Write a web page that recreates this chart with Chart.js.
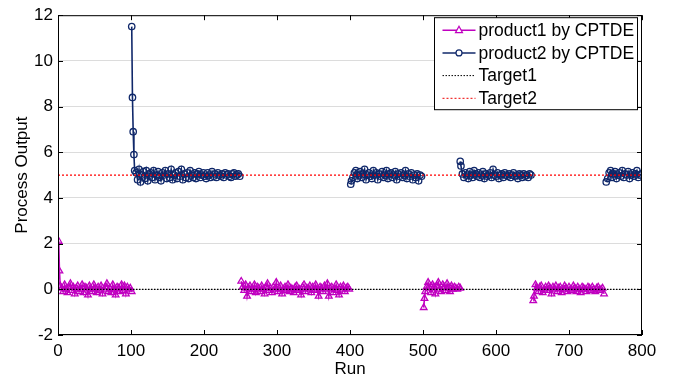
<!DOCTYPE html>
<html>
<head>
<meta charset="utf-8">
<script src="https://cdn.jsdelivr.net/npm/chart.js@4"></script>
<style>
  html, body { margin: 0; padding: 0; background: #fff; }
  #wrap { width: 674px; height: 378px; }
</style>
</head>
<body>
<div id="wrap"><canvas id="chart" width="674" height="378"></canvas></div>
<script>
// valeurs : les premiers points de chaque segment (transitoire)
// sont à 1 run d'écart, le reste un point tous les 2 runs
const runStep = 2;

// product1 : départs des segments, nb de points du transitoire, valeurs
const p1Starts = [1, 251, 501, 651];
const p1Heads = [3, 1, 3, 2];
const p1Seg1 = [2.1, 0.8, 0.15, 0.05, -0.1, 0.2, 0.0, -0.15, 0.1, 0.25, -0.05, 0.1, -0.2, 0.05, 0.15, -0.1, 0.0, 0.2, -0.15, 0.1, 0.05, -0.25, 0.15, 0.0, -0.1, 0.2, 0.05, -0.15, 0.1, -0.05, 0.15, -0.2, 0.0, 0.1, 0.25, -0.1, 0.05, -0.15, 0.2, 0.0, -0.25, 0.1, 0.05, -0.1, 0.2, -0.05, 0.15, -0.2, 0.1, 0.0, 0.05, -0.1];
const p1Seg2 = [0.35, 0.1, -0.05, 0.2, -0.3, 0.05, 0.15, -0.1, 0.0, 0.2, -0.15, 0.1, 0.05, -0.1, 0.15, 0.0, -0.2, 0.1, 0.25, -0.05, 0.05, -0.15, 0.1, 0.0, 0.3, -0.1, 0.05, 0.15, -0.2, 0.0, 0.1, -0.05, 0.2, -0.1, 0.05, 0.0, -0.15, 0.1, 0.15, -0.05, 0.0, -0.25, 0.1, 0.2, -0.1, 0.05, 0.0, 0.15, -0.15, 0.1, -0.05, 0.2, 0.0, -0.3, 0.1, 0.05, -0.1, 0.15, 0.0, 0.25, -0.3, 0.05, 0.1, -0.15, 0.0, 0.2, -0.05, -0.25, 0.1, 0.0, 0.15, -0.1, 0.05, 0.1, 0.0];
const p1Seg3 = [-0.8, -0.4, -0.1, 0.1, 0.3, 0.05, -0.15, 0.2, 0.1, -0.2, 0.15, 0.3, 0.0, -0.1, 0.2, 0.1, -0.05, 0.25, 0.05, -0.1, 0.15, 0.0, 0.1, 0.05, 0.0, 0.1, 0.05];
const p1Seg4 = [-0.5, -0.3, 0.2, 0.05, -0.1, 0.1, 0.15, -0.15, 0.0, 0.1, -0.05, 0.15, 0.05, -0.2, 0.1, 0.0, 0.15, -0.1, 0.05, 0.1, -0.15, 0.0, 0.15, 0.05, -0.1, 0.1, 0.0, -0.05, 0.15, 0.05, -0.1, 0.1, 0.0, -0.15, 0.1, 0.05, 0.0, -0.1, 0.1, 0.05, -0.05, 0.1, 0.0, -0.1, 0.05, 0.1, -0.05, 0.0, 0.05, -0.2];

// product2
const p2Starts = [101, 401, 551, 751];
const p2Heads = [5, 2, 2, 1];
const p2Seg1 = [11.5, 8.4, 6.9, 5.9, 5.2, 5.1, 4.8, 5.25, 4.7, 5.0, 5.15, 4.85, 5.2, 4.75, 5.05, 5.1, 4.9, 5.2, 4.8, 5.0, 5.15, 4.9, 4.75, 5.1, 5.0, 5.2, 4.85, 5.05, 4.9, 5.25, 4.8, 5.0, 5.1, 4.85, 5.15, 4.95, 5.25, 4.8, 5.05, 4.9, 5.1, 4.85, 5.2, 5.0, 4.9, 5.1, 4.85, 5.05, 5.15, 4.9, 5.0, 5.1, 4.95, 4.85, 5.1, 5.0, 4.9, 5.15, 4.95, 5.05, 4.9, 5.1, 5.0, 4.95, 5.05, 4.9, 5.1, 5.0, 5.05, 4.95, 4.9, 5.05, 5.1, 4.95, 5.0, 5.05, 4.95];
const p2Seg2 = [4.6, 4.75, 4.9, 5.1, 5.2, 4.85, 5.0, 5.15, 4.9, 5.05, 5.25, 4.8, 5.0, 5.1, 4.95, 4.85, 5.2, 5.0, 5.1, 4.8, 5.05, 4.95, 5.15, 4.9, 5.0, 5.2, 4.85, 5.05, 5.1, 4.9, 5.0, 5.15, 4.8, 5.05, 4.95, 5.1, 4.9, 5.0, 5.2, 4.85, 5.05, 4.95, 5.1, 4.8, 5.0, 4.9, 5.05, 4.75, 5.0, 4.95];
const p2Seg3 = [5.6, 5.4, 5.05, 4.9, 5.1, 5.0, 4.85, 5.15, 5.0, 4.9, 5.2, 5.05, 4.95, 5.1, 4.9, 5.0, 5.15, 4.85, 5.05, 4.95, 5.0, 5.1, 4.9, 5.25, 5.0, 4.95, 5.1, 4.85, 5.0, 5.05, 4.9, 5.1, 5.0, 4.95, 5.05, 4.9, 5.0, 5.1, 4.95, 5.0, 4.85, 5.05, 5.0, 4.9, 5.05, 4.95, 5.0, 4.9, 5.05, 5.0];
const p2Seg4 = [4.7, 4.85, 5.1, 5.2, 4.9, 5.05, 5.15, 4.85, 5.0, 5.1, 4.95, 5.2, 4.9, 5.05, 5.0, 5.15, 4.85, 5.0, 5.1, 4.95, 5.05, 5.2, 4.9, 5.0, 5.05];

// cibles
const target1 = 0;
const target2 = 5;
const runMin = 0, runMax = 800;

const seriesNames = ['product1 by CPTDE', 'product2 by CPTDE', 'Target1', 'Target2'];
const colP1 = '#c000c0';
const colP2 = '#10286a';

// mise en forme {x,y} avec coupure (null) entre segments
function buildSeries(starts, heads, segs) {
    const pts = [];
    segs.forEach((seg, k) => {
        let run = starts[k];
        seg.forEach((v, i) => {
            pts.push({ x: run, y: v });
            run += (i < heads[k] - 1) ? 1 : runStep;
        });
        pts.push({ x: run, y: null });
    });
    return pts;
}

const p1Data = buildSeries(p1Starts, p1Heads, [p1Seg1, p1Seg2, p1Seg3, p1Seg4]);
const p2Data = buildSeries(p2Starts, p2Heads, [p2Seg1, p2Seg2, p2Seg3, p2Seg4]);

const FONT = 'Liberation Sans, Arial, Helvetica, sans-serif';

// cadre + graduations intérieures + légende façon matlab
const boxPlugin = {
    id: 'boxPlugin',
    afterDraw(chart) {
        const ctx = chart.ctx;
        const a = chart.chartArea;
        const xs = chart.scales.x, ys = chart.scales.y;
        ctx.save();
        ctx.strokeStyle = '#000';
        ctx.lineWidth = 1;
        ctx.strokeRect(a.left + 0.5, a.top + 0.5, a.right - a.left - 1, a.bottom - a.top - 1);
        const tl = 5;
        ctx.beginPath();
        xs.ticks.forEach(t => {
            const px = Math.round(xs.getPixelForValue(t.value)) + 0.5;
            ctx.moveTo(px, a.bottom); ctx.lineTo(px, a.bottom - tl);
            ctx.moveTo(px, a.top); ctx.lineTo(px, a.top + tl);
        });
        ys.ticks.forEach(t => {
            const py = Math.round(ys.getPixelForValue(t.value)) + 0.5;
            ctx.moveTo(a.left, py); ctx.lineTo(a.left + tl, py);
            ctx.moveTo(a.right, py); ctx.lineTo(a.right - tl, py);
        });
        ctx.stroke();

        // légende
        const bw = 203, bh = 92;
        const bx = a.right - 5 - bw + 0.5, by = a.top + 2.5;
        ctx.fillStyle = '#fff';
        ctx.fillRect(bx, by, bw, bh);
        ctx.strokeRect(bx, by, bw, bh);
        const rows = [
            { c: colP1, dash: [], mark: 'tri' },
            { c: colP2, dash: [], mark: 'circ' },
            { c: '#000', dash: [1.5, 1.5], mark: null },
            { c: '#e00', dash: [2, 2], mark: null }
        ];
        ctx.font = '17.5px ' + FONT;
        ctx.textBaseline = 'middle';
        rows.forEach((r, i) => {
            const cy = by + 12.5 + i * 22.7;
            const x0 = bx + 8, x1 = bx + 41;
            ctx.strokeStyle = r.c;
            ctx.lineWidth = r.mark ? 1.5 : 1;
            ctx.setLineDash(r.dash);
            ctx.beginPath(); ctx.moveTo(x0, cy); ctx.lineTo(x1, cy); ctx.stroke();
            ctx.setLineDash([]);
            const mx = (x0 + x1) / 2;
            ctx.lineWidth = 1.2;
            if (r.mark === 'tri') {
                ctx.beginPath();
                ctx.moveTo(mx, cy - 4); ctx.lineTo(mx + 3.5, cy + 2.5); ctx.lineTo(mx - 3.5, cy + 2.5); ctx.closePath();
                ctx.fillStyle = '#fff'; ctx.fill(); ctx.stroke();
            } else if (r.mark === 'circ') {
                ctx.beginPath(); ctx.arc(mx, cy, 3, 0, Math.PI * 2);
                ctx.fillStyle = '#fff'; ctx.fill(); ctx.stroke();
            }
            ctx.fillStyle = '#000';
            ctx.fillText(seriesNames[i], bx + 44, cy + 1);
        });
        ctx.restore();
    }
};

const ctx = document.getElementById('chart').getContext('2d');
const myChart = new Chart(ctx, {
    type: 'line',
    data: {
        datasets: [
            {
                label: seriesNames[2],
                data: [{ x: runMin, y: target1 }, { x: runMax, y: target1 }],
                borderColor: '#000', borderWidth: 1.3, borderDash: [1.5, 1.5],
                pointRadius: 0
            },
            {
                label: seriesNames[3],
                data: [{ x: runMin, y: target2 }, { x: runMax, y: target2 }],
                borderColor: '#ff0000', borderWidth: 1.3, borderDash: [2, 2],
                pointRadius: 0
            },
            {
                label: seriesNames[1],
                data: p2Data,
                borderColor: colP2, borderWidth: 1.6,
                pointStyle: 'circle', pointRadius: 3.2, pointBorderWidth: 1.3,
                pointBackgroundColor: 'rgba(255,255,255,0)', pointBorderColor: colP2,
                spanGaps: false
            },
            {
                label: seriesNames[0],
                data: p1Data,
                borderColor: colP1, borderWidth: 1.6,
                pointStyle: 'triangle', pointRadius: 3.8, pointBorderWidth: 1.3,
                pointBackgroundColor: 'rgba(255,255,255,0)', pointBorderColor: colP1,
                spanGaps: false
            }
        ]
    },
    options: {
        responsive: false,
        animation: false,
        layout: { padding: { left: 0, right: 32, top: 13, bottom: 0 } },
        plugins: { legend: { display: false }, tooltip: { enabled: false } },
        scales: {
            x: {
                type: 'linear', min: runMin, max: runMax,
                ticks: { stepSize: 100, color: '#000', font: { family: FONT, size: 17 }, padding: 6, maxRotation: 0 },
                grid: { display: false, drawTicks: false, tickLength: 0 },
                border: { display: false },
                title: { display: true, text: 'Run', color: '#000', font: { family: FONT, size: 17 }, padding: { top: 0, bottom: -2 } },
                afterFit(s) { s.height = 43; }
            },
            y: {
                min: -2, max: 12,
                ticks: { stepSize: 2, color: '#000', font: { family: FONT, size: 17 }, padding: 5 },
                grid: { color: '#dcdcdc', drawTicks: false },
                border: { display: false },
                title: { display: true, text: 'Process Output', color: '#000', font: { family: FONT, size: 17 }, padding: { top: 12, bottom: 0 } },
                afterFit(s) { s.width = 58; }
            }
        }
    },
    plugins: [boxPlugin]
});
</script>
</body>
</html>
